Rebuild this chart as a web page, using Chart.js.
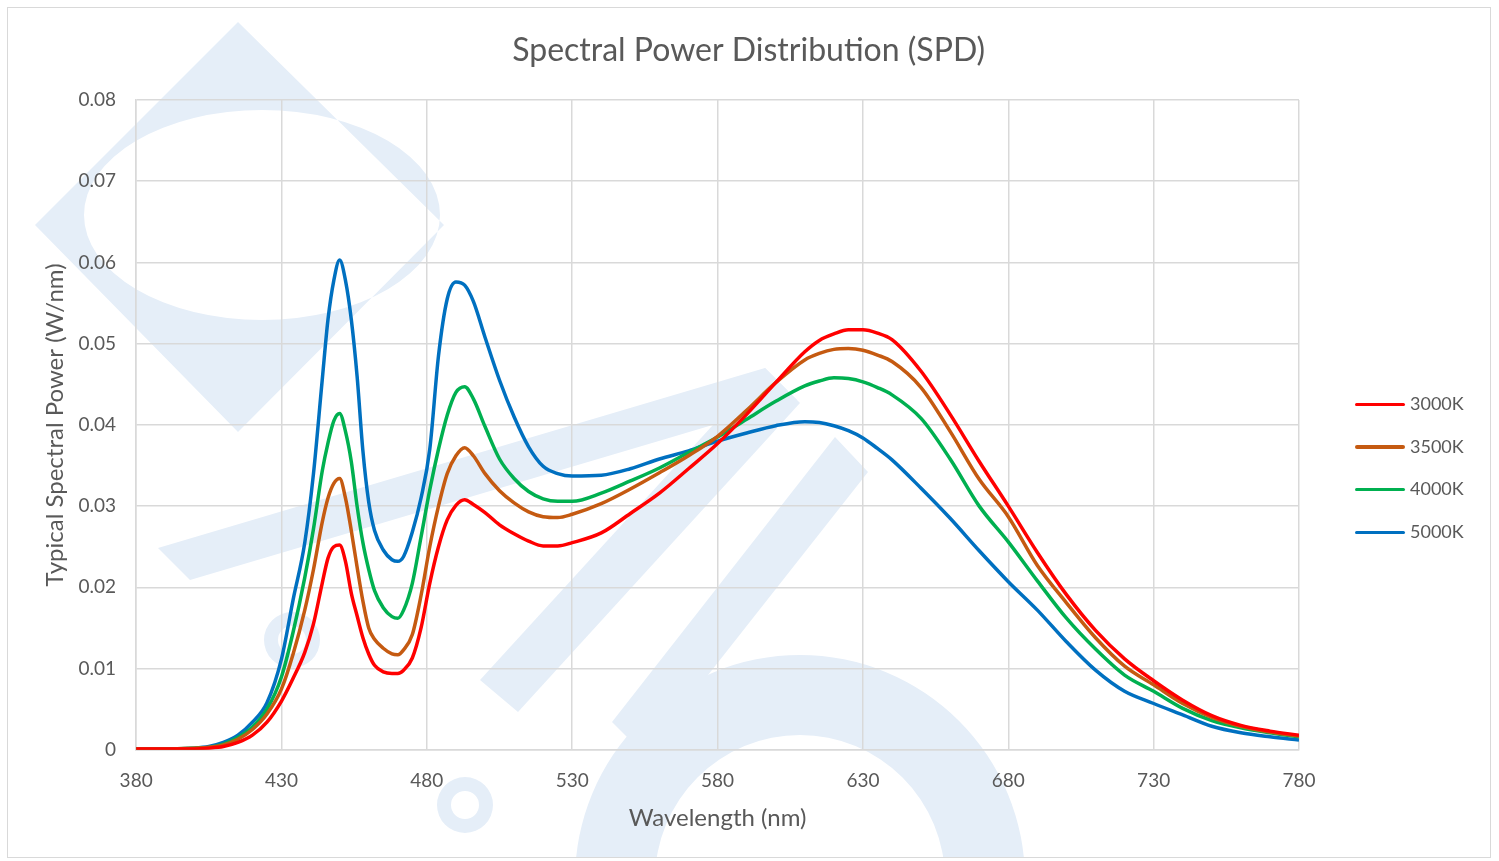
<!DOCTYPE html>
<html>
<head>
    <script src="https://cdn.jsdelivr.net/npm/chart.js"></script>
    <title>SPD</title>
    <style>
        body { margin: 0; background: #ffffff; font-family: Lato, "Open Sans", sans-serif; }
        #frame {
            position: absolute; left: 7px; top: 7px;
            width: 1482px; height: 849px;
            border: 1px solid #d9d9d9;
        }
        #legend { position: absolute; left: 1355px; top: 389px; }
        .item { position: relative; height: 42.7px; color: #595959; font-size: 18px; }
        .item .swatch { position: absolute; left: 0; top: 13.5px; width: 50px; height: 3.5px; border-radius: 2px; }
        .item span { position: absolute; left: 55px; top: 3px; line-height: 22px; }
    </style>
</head>
<body>
    <div id="frame">
        <canvas id="spdChart" width="1482" height="849"></canvas>
    </div>
    <div id="legend"></div>

    <script>
        const wavelengths = [380, 390, 400, 405, 410, 415, 420, 425, 430, 434, 438, 441, 444, 446, 448, 450, 452, 454, 456, 458,
            460, 462, 465, 468, 470, 472, 475, 478, 481, 484, 487, 490, 493, 496, 500, 505, 510, 515, 520, 525,
            530, 540, 550, 560, 570, 580, 590, 600, 610, 615, 620, 625, 630, 635, 640, 650, 660, 670, 680, 690,
            700, 710, 720, 730, 740, 750, 760, 770, 780];

        const spd3000 = [0.0001, 0.0001, 0.0001, 0.0002, 0.0004, 0.0009, 0.0018, 0.0034, 0.0060, 0.0088, 0.0120, 0.0155, 0.0205, 0.0236, 0.0250, 0.0252, 0.0232, 0.0193, 0.0165, 0.0138,
            0.0118, 0.0104, 0.0096, 0.0094, 0.0094, 0.0098, 0.0113, 0.0150, 0.0205, 0.0250, 0.0283, 0.0301, 0.0308, 0.0302, 0.0292, 0.0277, 0.0266, 0.0257, 0.0251, 0.0251,
            0.0255, 0.0267, 0.0291, 0.0316, 0.0346, 0.0377, 0.0413, 0.0452, 0.0490, 0.0504, 0.0512, 0.0517, 0.0517, 0.0513, 0.0505, 0.0466, 0.0413, 0.0355, 0.0300, 0.0243,
            0.0191, 0.0147, 0.0112, 0.0085, 0.0061, 0.0042, 0.0030, 0.0023, 0.0018];

        const spd3500 = [0.0001, 0.0001, 0.0002, 0.0003, 0.0006, 0.0013, 0.0025, 0.0044, 0.0075, 0.0118, 0.0172, 0.0222, 0.0280, 0.0310, 0.0328, 0.0334, 0.0310, 0.0270, 0.0225, 0.0183,
            0.0150, 0.0136, 0.0125, 0.0118, 0.0117, 0.0123, 0.0142, 0.0190, 0.0250, 0.0300, 0.0340, 0.0362, 0.0372, 0.0362, 0.0340, 0.0319, 0.0304, 0.0293, 0.0287, 0.0286,
            0.0290, 0.0303, 0.0321, 0.0341, 0.0362, 0.0386, 0.0418, 0.0452, 0.0480, 0.0488, 0.0493, 0.0494, 0.0492, 0.0486, 0.0478, 0.0446, 0.0392, 0.0333, 0.0287, 0.0227,
            0.0181, 0.0138, 0.0103, 0.0080, 0.0057, 0.0040, 0.0029, 0.0022, 0.0017];

        const spd4000 = [0.0001, 0.0001, 0.0002, 0.0003, 0.0007, 0.0015, 0.0028, 0.0050, 0.0090, 0.0145, 0.0212, 0.0272, 0.0343, 0.0378, 0.0405, 0.0414, 0.0392, 0.0355, 0.0300, 0.0255,
            0.0222, 0.0196, 0.0175, 0.0164, 0.0162, 0.0172, 0.0205, 0.0262, 0.0320, 0.0370, 0.0412, 0.0440, 0.0447, 0.0432, 0.0398, 0.0358, 0.0334, 0.0318, 0.0309, 0.0306,
            0.0306, 0.0316, 0.0331, 0.0347, 0.0366, 0.0385, 0.0407, 0.0429, 0.0448, 0.0454, 0.0458, 0.0457, 0.0453, 0.0446, 0.0437, 0.0408, 0.0358, 0.0300, 0.0256, 0.0208,
            0.0162, 0.0124, 0.0092, 0.0072, 0.0051, 0.0036, 0.0027, 0.0021, 0.0016];

        const spd5000 = [0.0001, 0.0001, 0.0002, 0.0004, 0.0009, 0.0018, 0.0034, 0.0058, 0.0112, 0.0185, 0.0255, 0.0340, 0.0455, 0.0530, 0.0578, 0.0603, 0.0578, 0.0530, 0.0460, 0.0368,
            0.0305, 0.0270, 0.0246, 0.0234, 0.0232, 0.0238, 0.0268, 0.0310, 0.0370, 0.0485, 0.0555, 0.0576, 0.0572, 0.0552, 0.0508, 0.0455, 0.0410, 0.0373, 0.0349, 0.0340,
            0.0337, 0.0338, 0.0346, 0.0358, 0.0368, 0.0380, 0.0390, 0.0399, 0.0404, 0.0403, 0.0399, 0.0393, 0.0384, 0.0371, 0.0357, 0.0322, 0.0285, 0.0245, 0.0207, 0.0172,
            0.0133, 0.0098, 0.0072, 0.0057, 0.0043, 0.0029, 0.0021, 0.0016, 0.0012];

        const seriesNames = ['3000K', '3500K', '4000K', '5000K'];
        const seriesColors = ['#ff0000', '#c55a11', '#00b050', '#0070c0'];
        const seriesValues = [spd3000, spd3500, spd4000, spd5000];

        const textColor = '#595959';
        const gridColor = '#d9d9d9';
        const markColor = '#e5eef8';
        Chart.defaults.font.family = 'Lato, "Open Sans", sans-serif';
        Chart.defaults.color = textColor;

        // faint logo behind the plot (page coordinates, frame content starts at 8,8)
        const watermark = {
            id: 'watermark',
            beforeDraw(chart) {
                const ctx = chart.ctx;
                const poly = (pts) => {
                    ctx.beginPath();
                    ctx.moveTo(pts[0][0], pts[0][1]);
                    pts.slice(1).forEach(p => ctx.lineTo(p[0], p[1]));
                    ctx.closePath();
                    ctx.fill();
                };
                const ring = (cx, cy, r1, r2) => {
                    ctx.beginPath();
                    ctx.arc(cx, cy, r1, 0, Math.PI * 2);
                    ctx.arc(cx, cy, r2, 0, Math.PI * 2, true);
                    ctx.fill();
                };
                ctx.save();
                ctx.translate(-8, -8);
                ctx.fillStyle = markColor;
                // diamond with a round hole
                ctx.beginPath();
                ctx.moveTo(238, 22);
                ctx.lineTo(444, 225);
                ctx.lineTo(238, 432);
                ctx.lineTo(35, 225);
                ctx.closePath();
                ctx.ellipse(262, 215, 178, 105, 0, 0, Math.PI * 2, true);
                ctx.fill('evenodd');
                // slanted bands
                poly([[158, 548], [765, 368], [797, 400], [190, 580]]);
                poly([[765, 368], [800, 403], [518, 712], [480, 680]]);
                poly([[835, 437], [868, 472], [645, 755], [612, 722]]);
                // rings
                ring(800, 880, 225, 145);
                ring(292, 640, 28, 14);
                ring(465, 805, 28, 14);
                ctx.restore();
            }
        };

        const datasets = seriesNames.map((name, i) => ({
            label: name,
            data: wavelengths.map((w, j) => ({ x: w, y: seriesValues[i][j] })),
            borderColor: seriesColors[i],
            backgroundColor: seriesColors[i],
            borderWidth: 3.5,
            pointRadius: 0,
            cubicInterpolationMode: 'monotone'
        }));

        new Chart(document.getElementById('spdChart'), {
            type: 'line',
            data: { datasets: datasets },
            plugins: [watermark],
            options: {
                responsive: false,
                animation: false,
                layout: { padding: { left: 32.4, right: 33, bottom: 20.8 } },
                plugins: {
                    title: {
                        display: true,
                        text: 'Spectral Power Distribution (SPD)',
                        font: { size: 32, weight: 'normal' },
                        color: textColor,
                        padding: { top: 23, bottom: 30.6 }
                    },
                    legend: { display: false },
                    tooltip: { enabled: false }
                },
                scales: {
                    x: {
                        type: 'linear',
                        min: 380,
                        max: 780,
                        ticks: { stepSize: 50, padding: 20, font: { size: 19 } },
                        grid: { color: gridColor, lineWidth: 1.5, drawTicks: false },
                        border: { color: gridColor, width: 1.5 },
                        title: { display: true, text: 'Wavelength (nm)', font: { size: 24 }, padding: { top: -9.2, bottom: 4 } }
                    },
                    y: {
                        min: 0,
                        max: 0.08,
                        ticks: { stepSize: 0.01, padding: 20, font: { size: 19 } },
                        grid: { color: gridColor, lineWidth: 1.5, drawTicks: false },
                        border: { color: gridColor, width: 1.5 },
                        title: { display: true, text: 'Typical Spectral Power (W/nm)', font: { size: 24 }, padding: { top: 0, bottom: -10.6 } }
                    },
                    // empty space on the right that holds the legend
                    legendSpace: {
                        axis: 'y',
                        position: 'right',
                        ticks: { display: false },
                        grid: { display: false },
                        border: { display: false },
                        afterFit(scale) { scale.width = 158; }
                    }
                }
            }
        });

        // legend to the right of the plot
        const legend = document.getElementById('legend');
        seriesNames.forEach((name, i) => {
            const item = document.createElement('div');
            item.className = 'item';
            const swatch = document.createElement('div');
            swatch.className = 'swatch';
            swatch.style.background = seriesColors[i];
            const label = document.createElement('span');
            label.textContent = name;
            item.appendChild(swatch);
            item.appendChild(label);
            legend.appendChild(item);
        });
    </script>
</body>
</html>
